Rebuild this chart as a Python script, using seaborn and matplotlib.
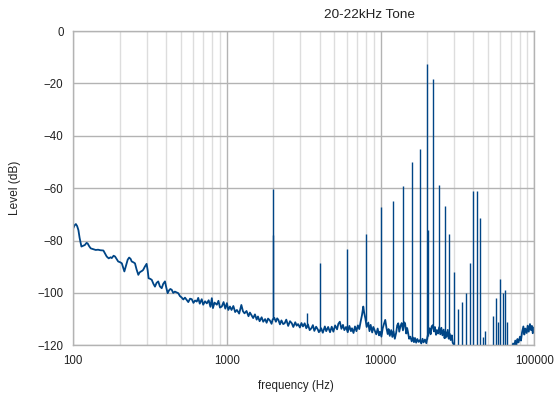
import numpy as np
import matplotlib
matplotlib.use("Agg")
import matplotlib.pyplot as plt
import seaborn as sns
from matplotlib.ticker import FixedLocator, NullFormatter, LogLocator

# noise floor (Hz, dB)
floor_freq = [
    100, 102, 104, 106, 108, 110, 113, 116, 119, 122, 124, 127, 130, 135, 140, 145,
    150, 157, 161, 165, 170, 175, 178, 183, 187, 192, 196, 202, 207, 211, 215, 219,
    222, 226, 231, 236, 240, 246, 252, 258, 265, 270, 276, 280, 285, 292, 300, 305,
    309, 316, 324, 332, 340, 348, 357, 366, 376, 385, 395, 403, 411, 420, 428, 437,
    447, 458, 470, 482, 494, 506, 520, 533, 547, 560, 575, 590, 605, 620, 636, 650,
    665, 685, 700, 720, 739, 760, 780, 797, 810, 830, 859, 880, 900, 925, 950, 975,
    998, 1020, 1045, 1070, 1100, 1130, 1160, 1200, 1240, 1270, 1300, 1340, 1380, 1410,
    1440, 1480, 1520, 1560, 1590, 1630, 1680, 1720, 1770, 1810, 1850, 1900, 1950, 1980,
    2030, 2080, 2120, 2160, 2210, 2260, 2320, 2370, 2430, 2500, 2570, 2640, 2700, 2780,
    2840, 2900, 2980, 3050, 3120, 3200, 3280, 3360, 3450, 3540, 3620, 3700, 3800, 3900,
    3960, 4100, 4200, 4330, 4420, 4550, 4680, 4800, 4920, 5050, 5200, 5300, 5420, 5550,
    5680, 5800, 5950, 6100, 6250, 6400, 6500, 6650, 6800, 6950, 7100, 7250, 7400, 7550,
    7700, 7800, 7950, 8100, 8300, 8450, 8600, 8800, 8950, 9170, 9350, 9550, 9750, 9900,
    10100, 10300, 10500, 10700, 10900, 11100, 11250, 11450, 11700, 11900, 12100, 12350,
    12600, 12800, 13000, 13200, 13450, 13700, 13950, 14200, 14400, 14650, 14850, 15000,
    15300, 15600, 15900, 16200, 16450, 16700, 17000, 17300, 17650, 18000, 18350, 18700,
    19000, 19400, 19800, 20100, 20400, 20800, 21100, 21450, 21800, 22200, 22500, 22900,
    23200, 23600, 24000, 24400, 24800, 25200, 25700, 26000, 26400, 26800, 27300, 27700,
    28000, 28500, 29000, 29400, 29700, 30300, 31000, 70000, 71500, 72600, 73800, 75000,
    76300, 77500, 78800, 80500, 81700, 83000, 84700, 85900, 87200, 89000, 90300, 91800,
    93500, 95000, 96300, 97500, 99000, 100000,
]
floor_db = [
    -75.3, -74.2, -73.7, -74.5, -76.0, -79.0, -82.3, -82.0, -81.7, -80.9, -81.1, -82.2, -83.0, -83.3, -83.6, -83.5,
    -83.7, -83.8, -85.0, -86.1, -86.8, -86.4, -86.7, -85.8, -86.1, -87.2, -88.0, -88.3, -88.7, -90.2, -91.8, -90.1,
    -88.7, -87.3, -86.5, -87.0, -88.0, -88.3, -88.7, -91.0, -93.1, -92.2, -91.8, -91.6, -91.2, -90.0, -88.9, -91.5,
    -94.4, -94.6, -95.0, -96.5, -97.6, -96.2, -95.6, -97.5, -98.2, -96.5, -95.6, -98.0, -100.1, -99.0, -98.5, -98.8,
    -100.0, -99.5, -99.8, -100.1, -101.2, -101.7, -102.5, -101.8, -102.7, -103.5, -102.2, -102.4, -103.8, -102.9, -103.3, -101.9,
    -104.1, -102.4, -104.5, -103.2, -104.0, -102.8, -105.3, -102.0, -105.8, -103.7, -104.5, -103.0, -105.6, -105.2, -103.5, -106.0,
    -103.9, -106.5, -105.2, -106.5, -105.0, -107.3, -106.5, -107.9, -104.6, -107.0, -107.8, -106.9, -108.9, -107.5,
    -108.4, -109.6, -108.2, -110.2, -109.0, -110.8, -109.3, -111.0, -110.0, -111.4, -109.8, -110.5, -111.8, -110.2,
    -109.5, -111.0, -109.7, -110.3, -112.0, -110.5, -111.9, -111.6, -110.2, -112.6, -110.8, -111.6, -113.0, -111.2,
    -112.5, -111.9, -113.2, -111.5, -112.8, -111.6, -113.5, -112.0, -114.2, -113.5, -112.3, -114.5, -112.9, -114.0,
    -115.0, -113.5, -115.2, -112.8, -114.6, -113.0, -115.0, -112.9, -114.8, -112.4, -113.9, -111.8, -111.0, -113.7,
    -112.2, -114.2, -113.0, -115.0, -112.6, -114.6, -113.5, -115.3, -112.8, -114.6, -112.4, -113.8, -111.0, -108.5,
    -105.2, -107.5, -109.8, -113.0, -111.3, -114.6, -112.2, -115.1, -113.0, -114.5, -115.8, -113.6, -116.2, -114.8,
    -116.7, -113.5, -111.8, -110.3, -113.4, -115.7, -113.8, -116.4, -114.2, -116.8, -114.6, -117.5,
    -115.2, -112.4, -111.6, -114.8, -112.6, -111.5, -114.3, -111.2, -111.6, -115.5, -113.4, -114.6,
    -117.5, -116.7, -118.5, -117.0, -118.8, -117.2, -119.0, -117.6, -118.7, -118.0, -119.3, -117.5,
    -118.9, -117.8, -119.2, -117.0, -115.2, -113.5, -115.8, -112.8, -112.3, -114.7, -113.0, -116.0,
    -114.2, -115.5, -113.1, -115.8, -113.3, -116.2, -114.0, -117.3, -114.9, -116.8, -114.1, -117.5,
    -115.5, -118.0, -116.2, -119.1, -119.3, -121.5, -124.0, -124.0, -121.0, -119.3, -120.6, -118.2,
    -119.8, -117.6, -118.9, -116.7, -118.2, -115.1, -112.8, -115.9, -113.6, -115.3, -112.5, -114.8,
    -111.9, -114.2, -112.6, -115.4, -113.2, -114.5,
]

# tones, harmonics and intermod products (Hz, dB)
peak_freq = [1985, 2000, 3300, 4000, 6000, 8000, 10000, 12000, 14000, 16000, 18000,
             20000, 20200, 22000, 24000, 26000, 28000, 30000, 32000, 34000, 36000,
             38000, 40000, 42000, 44000, 46000, 48000, 54000, 56000, 58000, 60000,
             62000, 64000, 66000]
peak_db = [-78.0, -60.3, -107.7, -88.7, -83.3, -77.5, -67.2, -64.9, -59.2, -50.0, -44.9,
           -12.6, -76.0, -18.4, -58.8, -66.7, -77.4, -92.0, -106.2, -103.4, -99.9,
           -88.4, -61.0, -61.0, -71.5, -117.0, -114.5, -109.0, -102.0, -111.0, -94.7,
           -100.0, -99.0, -111.0]

x_ticks = [100, 1000, 10000, 100000]
y_ticks = [0, -20, -40, -60, -80, -100, -120]

line_col = "#004586"
grid_major = "#b3b3b3"
grid_minor = "#dddddd"

sns.set_theme(style="white")
plt.rcParams["font.family"] = ["Liberation Sans", "DejaVu Sans"]
plt.rcParams["axes.unicode_minus"] = True

fig = plt.figure(figsize=(5.55, 3.94), dpi=100)
ax = fig.add_axes([0.132, 0.1236, 0.831, 0.7977])

sns.lineplot(x=floor_freq, y=floor_db, ax=ax, color=line_col, linewidth=1.3,
             estimator=None, sort=False)

# spikes start from the floor level underneath them
base = np.interp(np.log10(peak_freq), np.log10(floor_freq), floor_db)
ax.vlines(peak_freq, base, peak_db, color=line_col, linewidth=1.0)

ax.set_xscale("log")
ax.set_xlim(100, 100000)
ax.set_ylim(-120, 0)

ax.xaxis.set_major_locator(FixedLocator(x_ticks))
ax.set_xticklabels([str(t) for t in x_ticks])
ax.xaxis.set_minor_locator(LogLocator(base=10, subs=range(2, 10)))
ax.xaxis.set_minor_formatter(NullFormatter())
ax.set_yticks(y_ticks)
ax.set_yticklabels([str(t) if t == 0 else "\u2212" + str(-t) for t in y_ticks])

ax.grid(True, which="major", axis="both", color=grid_major, linewidth=1.0)
ax.grid(True, which="minor", axis="x", color=grid_minor, linewidth=1.0)
ax.set_axisbelow(True)

for s in ax.spines.values():
    s.set_color(grid_major)
    s.set_linewidth(1.0)

ax.tick_params(axis="both", which="major", length=5, color=grid_major, width=1,
               labelsize=8.3, labelcolor="#222222")
ax.tick_params(axis="y", pad=2)
ax.tick_params(axis="x", pad=2)
ax.tick_params(axis="x", which="minor", length=0)

ax.set_xlabel("frequency (Hz)", fontsize=8.3, color="#222222")
ax.set_ylabel("Level (dB)", fontsize=8.6, color="#222222")
ax.xaxis.set_label_coords((295.7 / 555 - 0.132) / 0.831, -0.111)
ax.yaxis.set_label_coords(-0.114, 0.5)

fig.text(369 / 555, 1 - 15.3 / 394, "20-22kHz Tone", ha="center", va="center",
         fontsize=9.7, color="#222222")

fig.savefig("out.png", dpi=100)
